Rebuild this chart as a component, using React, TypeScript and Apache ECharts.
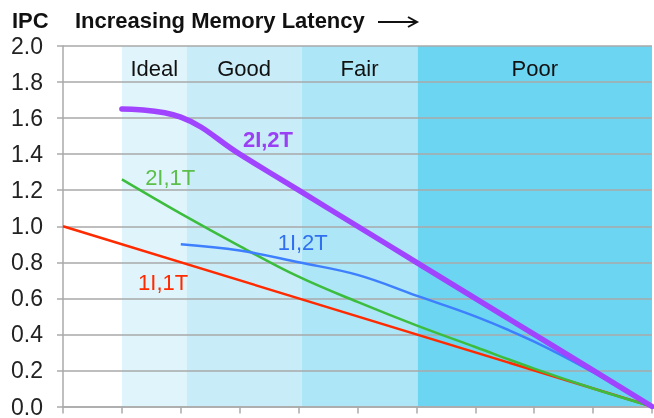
import React, { useEffect, useRef } from "react";
import * as echarts from "echarts";

const red1I1T: [number, number][] = [[0, 1.0], [10, 0]];
const green2I1T: [number, number][] = [[1, 1.26], [2, 1.07], [3, 0.89], [4, 0.72], [5, 0.58], [6, 0.45], [7, 0.33], [8, 0.21], [9, 0.1], [10, 0]];
const blue1I2T: [number, number][] = [[2, 0.9], [3, 0.865], [4, 0.8], [5, 0.73], [6, 0.615], [7, 0.5], [8, 0.36], [9, 0.19], [10, 0]];
const purple2I2T: [number, number][] = [[1, 1.65], [2, 1.605], [3, 1.4], [4, 1.2], [5, 1.0], [6, 0.8], [7, 0.6], [8, 0.4], [9, 0.2], [10, 0]];
const bandNames = ["Ideal", "Good", "Fair", "Poor"];
const bandEdges = [1, 2.1, 4.05, 6.02, 10];
const bandColors = ["#e0f5fb", "#c8edf8", "#ade6f6", "#6cd5f1"];

export default function App() {
  const ref = useRef<HTMLDivElement>(null);
  useEffect(() => {
    const chart = echarts.init(ref.current!, null, { renderer: "svg" });
    const font = "Liberation Sans, Arial, sans-serif";
    const lbl = (text: string, coord: [number, number], color: string, bold = false) => ({
      coord,
      symbolSize: 0,
      value: text,
      label: { show: true, position: "inside", formatter: text, color, fontSize: 22, fontWeight: bold ? "bold" : "normal", fontFamily: font },
    });
    chart.setOption({
      animation: false,
      grid: { left: 63, right: 2, top: 46, bottom: 9 },
      xAxis: {
        type: "value", min: 0, max: 10, interval: 1, z: 2,
        axisLine: { lineStyle: { color: "#aaa", width: 1.5 } },
        axisTick: { show: true, length: 7, lineStyle: { color: "#aaa", width: 1.5 } },
        axisLabel: { show: false },
        splitLine: { show: false },
      },
      yAxis: {
        type: "value", min: 0, max: 2, interval: 0.2, z: 2,
        axisLine: { show: true, lineStyle: { color: "#aaa", width: 1.5 } },
        axisTick: { show: true, length: 6, lineStyle: { color: "#aaa", width: 1.5 } },
        axisLabel: { formatter: (v: number) => v.toFixed(1), color: "#222", fontSize: 23, fontFamily: font, margin: 20 },
        splitLine: { show: true, lineStyle: { color: "#a8a8a8", width: 1.5 } },
      },
      graphic: [
        { type: "text", left: 12, top: 9, style: { text: "IPC", fontSize: 22, fontWeight: "bold", fontFamily: font, fill: "#111" } },
        { type: "text", left: 75, top: 9, style: { text: "Increasing Memory Latency", fontSize: 22, fontWeight: "bold", fontFamily: font, fill: "#111" } },
        { type: "line", shape: { x1: 378, y1: 22, x2: 416, y2: 22 }, style: { stroke: "#111", lineWidth: 2 } },
        { type: "polyline", shape: { points: [[408, 17], [417, 22], [408, 27]] }, style: { stroke: "#111", lineWidth: 2, fill: "none" } },
      ],
      series: [
        {
          type: "line", data: [], z: 1,
          markArea: {
            silent: true,
            data: bandNames.map((n, i) => [
              { xAxis: bandEdges[i], itemStyle: { color: bandColors[i] }, name: n,
                label: { show: true, position: "insideTop", distance: 11, color: "#111", fontSize: 22, fontFamily: font } },
              { xAxis: bandEdges[i + 1] },
            ]),
          },
        },
        {
          type: "line", data: red1I1T, showSymbol: false, z: 3,
          lineStyle: { color: "#ff2a00", width: 2.5 },
          markPoint: { data: [lbl("1I,1T", [1.7, 0.69], "#ff2a00")] },
        },
        {
          type: "line", data: green2I1T, smooth: 0.4, showSymbol: false, z: 3,
          lineStyle: { color: "#3dbd3d", width: 2.5 },
          markPoint: { data: [lbl("2I,1T", [1.82, 1.27], "#5cbf4a")] },
        },
        {
          type: "line", data: blue1I2T, smooth: 0.4, showSymbol: false, z: 3,
          lineStyle: { color: "#3d7fff", width: 2.5 },
          markPoint: { data: [lbl("1I,2T", [4.07, 0.91], "#2f6ff0")] },
        },
        {
          type: "line", data: purple2I2T, smooth: 0.4, showSymbol: false, z: 4,
          lineStyle: { color: "#a044ff", width: 5.5, cap: "round" },
          markPoint: { data: [lbl("2I,2T", [3.48, 1.48], "#9b3ff5", true)] },
        },
      ],
    });
    return () => chart.dispose();
  }, []);
  return <div ref={ref} style={{ position: "fixed", left: 0, top: 0, width: 654, height: 418 }} />;
}
